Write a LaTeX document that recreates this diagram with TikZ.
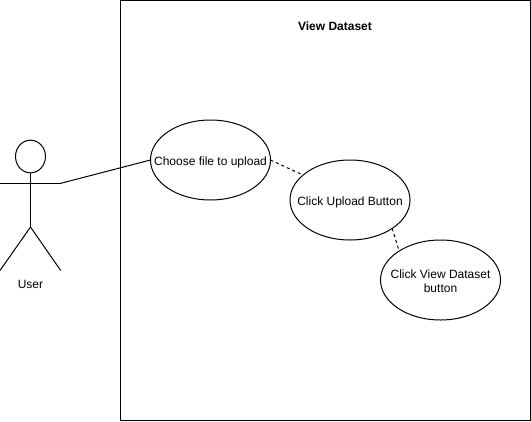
\documentclass[tikz,border=0pt]{standalone}
\usepackage{fontspec}
\setmainfont{Liberation Sans}
\usetikzlibrary{shapes.geometric}
\newcommand{\zerotext}[1]{\makebox[0pt]{\smash{\raisebox{-0.45em}{\begin{tabular}[c]{@{}c@{}}#1\end{tabular}}}}}
\tikzset{
  px/.style={x=0.75pt,y=-0.75pt},
  line/.style={draw=black,line width=0.75pt},
  dashline/.style={line,dash pattern=on 2.25pt off 2.25pt},
  usecase/.style={ellipse,draw=black,line width=0.75pt,fill=white,minimum width=90pt,minimum height=60pt,inner sep=0pt,outer sep=0pt,font=\fontsize{9}{10.5}\selectfont},
  lbl/.style={inner sep=0pt,font=\fontsize{9}{11}\selectfont,align=center}
}
\begin{document}
\begin{tikzpicture}[px]
\useasboundingbox (0,0) rectangle (531,421);
\fill[white] (0,0) rectangle (531,421);
\node[rectangle,draw=black,line width=0.75pt,minimum width=307.5pt,minimum height=315pt,inner sep=0pt,outer sep=0pt] (box) at (325.5,210.5) {};
\node[lbl,font=\fontsize{9}{11}\selectfont\bfseries] (title) at (335,26) {View Dataset};
\node[usecase] (a) at (210.5,160) {\zerotext{Choose file to upload}};
\node[usecase] (b) at (350,200) {\zerotext{Click Upload Button}};
\node[usecase] (c) at (440.5,280) {\zerotext{Click View Dataset\\button}};
\node[ellipse,draw=black,line width=0.75pt,minimum width=22.5pt,minimum height=24.5pt,inner sep=0pt,outer sep=0pt] (head) at (30.5,156.5) {};
\coordinate (hip) at (30.5,227);
\coordinate (armL) at (0,183.5);
\coordinate (armR) at (60,183.5);
\coordinate (legL) at (0,270.5);
\coordinate (legR) at (60.7,270.5);
\draw[line] (head.south) -- (hip);
\draw[line] (armL) -- (armR);
\draw[line] (hip) -- (legL);
\draw[line] (hip) -- (legR);
\draw[line] (armR) -- (a.west);
\draw[dashline] (a.east) -- (b.152);
\draw[dashline] (b.-34) -- (c.145);
\node[lbl] (user) at (30.5,284.3) {User};
\end{tikzpicture}
\end{document}
